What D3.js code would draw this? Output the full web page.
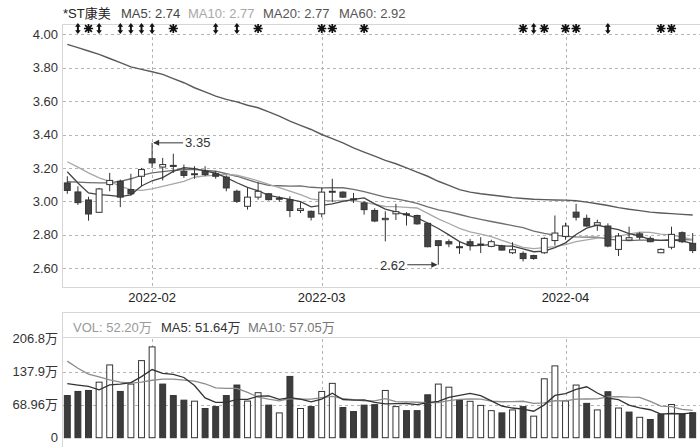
<!DOCTYPE html>
<html><head><meta charset="utf-8">
<script src="https://cdn.jsdelivr.net/npm/d3@7"></script>
<style>
body{margin:0;background:#fff}
svg{display:block}
text{font-family:"Liberation Sans",Arial,"Noto Sans CJK SC",sans-serif}
</style>
</head><body>
<svg id="c" width="700" height="447"></svg>
<script>
const dates = ["2022-01-19","2022-01-20","2022-01-21","2022-01-24","2022-01-25","2022-01-26","2022-01-27","2022-01-28",
"2022-02-07","2022-02-08","2022-02-09","2022-02-10","2022-02-11","2022-02-14","2022-02-15","2022-02-16","2022-02-17","2022-02-18",
"2022-02-21","2022-02-22","2022-02-23","2022-02-24","2022-02-25","2022-02-28",
"2022-03-01","2022-03-02","2022-03-03","2022-03-04","2022-03-07","2022-03-08","2022-03-09","2022-03-10","2022-03-11",
"2022-03-14","2022-03-15","2022-03-16","2022-03-17","2022-03-18","2022-03-21","2022-03-22","2022-03-23","2022-03-24","2022-03-25",
"2022-03-28","2022-03-29","2022-03-30","2022-03-31",
"2022-04-01","2022-04-06","2022-04-07","2022-04-08","2022-04-11","2022-04-12","2022-04-13","2022-04-14","2022-04-15",
"2022-04-18","2022-04-19","2022-04-20","2022-04-21"];

const open  = [3.11,3.056,3.008,2.934,3.10,3.12,3.07,3.15,3.255,3.205,3.215,3.18,3.16,3.18,3.165,3.145,3.06,2.97,3.025,3.045,
3.015,3.01,2.945,2.94,2.925,3.055,3.055,3.015,2.99,2.945,2.89,2.925,2.925,2.915,2.868,2.764,2.758,2.728,2.758,2.738,
2.73,2.733,2.692,2.688,2.675,2.692,2.765,2.79,2.935,2.898,2.858,2.852,2.712,2.768,2.805,2.778,2.692,2.725,2.812,2.748];
const high  = [3.15,3.09,3.027,3.08,3.17,3.13,3.165,3.20,3.35,3.26,3.285,3.22,3.21,3.21,3.18,3.155,3.07,3.08,3.115,3.05,
3.03,3.03,2.995,2.945,3.08,3.135,3.06,3.05,3.0,2.958,2.94,2.985,2.935,2.92,2.872,2.765,2.772,2.758,2.775,2.785,
2.77,2.74,2.755,2.70,2.68,2.785,2.915,2.872,2.985,2.92,2.89,2.868,2.81,2.848,2.815,2.79,2.718,2.848,2.82,2.81];
const low   = [3.045,2.978,2.884,2.93,3.06,2.965,3.035,3.09,3.20,3.125,3.17,3.14,3.135,3.15,3.135,3.06,2.99,2.95,3.01,3.005,
2.998,2.905,2.93,2.885,2.905,2.995,3.02,2.99,2.92,2.875,2.76,2.888,2.855,2.86,2.725,2.62,2.725,2.685,2.705,2.69,
2.725,2.705,2.684,2.64,2.65,2.685,2.735,2.77,2.885,2.848,2.823,2.725,2.672,2.765,2.77,2.755,2.69,2.712,2.75,2.69];
const close = [3.065,2.992,2.924,3.074,3.125,3.025,3.045,3.19,3.23,3.22,3.21,3.155,3.165,3.16,3.15,3.08,3.00,3.025,3.06,3.01,
3.018,2.945,2.955,2.905,3.055,3.06,3.025,3.01,2.95,2.882,2.898,2.938,2.92,2.865,2.728,2.735,2.745,2.722,2.735,2.744,
2.758,2.708,2.71,2.657,2.658,2.778,2.81,2.852,2.905,2.852,2.872,2.732,2.792,2.782,2.785,2.758,2.712,2.802,2.758,2.705];

const ma5  = [3.177,3.11,3.05,3.04,3.036,3.028,3.039,3.092,3.123,3.142,3.179,3.201,3.196,3.182,3.168,3.142,3.111,3.083,3.063,3.035,
3.023,3.012,2.998,2.967,2.976,2.984,3.0,3.011,3.02,2.985,2.953,2.936,2.918,2.901,2.87,2.837,2.799,2.759,2.733,2.736,
2.741,2.733,2.731,2.715,2.698,2.702,2.723,2.751,2.801,2.839,2.858,2.843,2.831,2.806,2.793,2.77,2.766,2.768,2.763,2.747];
const ma10 = [3.237,3.205,3.17,3.14,3.12,3.09,3.07,3.065,3.075,3.089,3.104,3.12,3.144,3.153,3.155,3.161,3.156,3.14,3.123,3.102,
3.082,3.061,3.04,3.015,3.005,3.003,3.006,3.004,2.993,2.981,2.969,2.968,2.964,2.96,2.928,2.895,2.867,2.838,2.817,2.803,
2.789,2.766,2.745,2.724,2.717,2.722,2.728,2.741,2.758,2.769,2.78,2.783,2.791,2.803,2.816,2.814,2.804,2.799,2.785,2.77];
const ma20 = [3.117,3.115,3.112,3.11,3.11,3.12,3.135,3.155,3.17,3.178,3.185,3.19,3.19,3.185,3.18,3.165,3.15,3.13,3.11,3.095,
3.093,3.091,3.092,3.084,3.08,3.082,3.081,3.072,3.058,3.041,3.025,3.015,3.002,2.988,2.966,2.949,2.936,2.921,2.905,2.892,
2.879,2.867,2.855,2.842,2.822,2.808,2.798,2.79,2.787,2.786,2.785,2.774,2.768,2.764,2.767,2.768,2.766,2.77,2.771,2.769];
const ma60 = [3.94,3.92,3.90,3.88,3.855,3.83,3.805,3.79,3.776,3.76,3.735,3.71,3.68,3.655,3.63,3.61,3.595,3.575,3.56,3.535,
3.51,3.48,3.455,3.43,3.40,3.375,3.35,3.32,3.295,3.27,3.245,3.225,3.20,3.175,3.15,3.12,3.095,3.07,3.055,3.045,
3.038,3.03,3.022,3.017,3.012,3.01,3.008,3.007,3.003,2.995,2.985,2.975,2.962,2.952,2.944,2.935,2.93,2.926,2.922,2.918];

const volume = [88,96.6,98.7,116,152,96.6,112,161,189.7,112,88,78.4,76.3,61,65,88,110,76.5,94,68,
51.8,128,61,65,96.6,113.5,63,54.6,68,69,98.7,65,56.5,56.5,89.6,112,105.5,79,76,67.5,
56.5,51.8,58,65,45,123,150,76.8,110,71.7,58,96,62,53.5,42.6,38,49.2,69.3,49.7,52.2];
const volUp = [0,0,0,1,1,0,1,1,1,0,0,0,1,0,0,0,0,1,1,0,1,0,1,0,1,1,0,0,0,0,1,1,0,0,0,1,1,0,1,1,
1,0,1,0,1,1,1,1,1,0,1,0,1,0,1,0,0,1,0,0];
const volMa5 = [113,110,107,100,110.3,112,115.1,127.5,142.3,134.3,132.5,125.8,108.9,83.1,73.7,73.7,80.1,80.1,86.7,87.3,
80.1,83.7,80.6,74.8,80.5,92.8,79.8,78.5,79.1,73.6,70.7,71.1,71.4,69.1,73.3,75.9,84.0,88.5,92.4,88.0,
76.9,66.2,62.0,59.8,55.3,68.6,88.2,92.0,101.0,106.3,93.3,82.5,79.5,68.2,62.4,58.4,49.1,50.5,49.8,51.7];
const volMa10 = [160,145,133,127,121,116,114,116,120,122.3,122.3,120.4,118.2,112.7,104.0,103.1,102.9,94.5,84.9,80.5,
76.9,81.9,80.3,80.7,83.9,86.4,81.7,79.6,77.0,77.1,81.7,75.4,75.0,74.1,73.4,73.3,77.5,80.0,80.8,80.6,
76.4,75.1,75.2,76.1,71.6,72.7,77.2,77.0,80.4,80.8,80.9,85.4,85.8,84.6,84.4,75.9,65.8,65.0,59.0,57.05];

const priceTicks = [2.6,2.8,3.0,3.2,3.4,3.6,3.8,4.0];
const volTicks = [0,68.96,137.9,206.8];
const volTickLabels = ["0","68.96万","137.9万","206.8万"];
const monthDates = ["2022-02-07","2022-03-01","2022-04-01"];
const monthLabels = ["2022-02","2022-03","2022-04"];
const markerDates = ["2022-01-20","2022-01-21","2022-01-24","2022-01-26","2022-01-27","2022-01-28","2022-02-07","2022-02-09",
"2022-02-15","2022-02-17","2022-02-21","2022-03-01","2022-03-02","2022-03-07","2022-03-28","2022-03-29","2022-03-30",
"2022-04-01","2022-04-06","2022-04-11","2022-04-18","2022-04-19"];
const markerTypes = ["arrow","star","arrow","arrow","arrow","arrow","arrow","star","arrow","arrow","star","star","star","star",
"star","arrow","star","star","star","arrow","star","star"];
const stockName = "*ST康美";
const legendLabels = ["MA5: 2.74","MA10: 2.77","MA20: 2.77","MA60: 2.92"];
const volLegendLabels = ["VOL: 52.20万","MA5: 51.64万","MA10: 57.05万"];

const svg = d3.select("#c");
const X0 = 62, X1 = 698, XR = 700;
const x = d3.scaleBand().domain(dates).range([X0, X1]).paddingInner(0.35).paddingOuter(0.175);
const bw = x.bandwidth();
const cx = d => x(d) + bw / 2;
const y = d3.scaleLinear().domain([2.6, 4.0]).range([268.1, 34.3]);
const vy = d3.scaleLinear().domain([0, 206.8]).range([437.7, 338.7]);

const frame = "#d6d6d6";
// frames
const fr = svg.append("g").attr("stroke", frame).attr("stroke-width", 1);
fr.append("line").attr("x1", X0).attr("x2", XR).attr("y1", 24.5).attr("y2", 24.5);
fr.append("line").attr("x1", X0 + 0.5).attr("x2", X0 + 0.5).attr("y1", 24).attr("y2", 287);
fr.append("line").attr("x1", X0).attr("x2", XR).attr("y1", 287.5).attr("y2", 287.5);
fr.append("line").attr("x1", X0).attr("x2", XR).attr("y1", 312.5).attr("y2", 312.5);
fr.append("line").attr("x1", X0).attr("x2", XR).attr("y1", 337.5).attr("y2", 337.5);
fr.append("line").attr("x1", X0 + 0.5).attr("x2", X0 + 0.5).attr("y1", 312).attr("y2", 447);

// grid
const grid = svg.append("g").attr("stroke", "#b4b4b4").attr("stroke-dasharray", "3,3").attr("stroke-width", 1);
priceTicks.forEach(t => grid.append("line").attr("x1", X0 + 1).attr("x2", XR).attr("y1", Math.round(y(t)) + 0.5).attr("y2", Math.round(y(t)) + 0.5));
[volTicks[1], volTicks[2]].forEach(t => grid.append("line").attr("x1", X0 + 1).attr("x2", XR).attr("y1", Math.round(vy(t)) + 0.5).attr("y2", Math.round(vy(t)) + 0.5));
monthDates.forEach(d => {
  const xx = Math.round(cx(d)) + 0.5;
  grid.append("line").attr("x1", xx).attr("x2", xx).attr("y1", 25).attr("y2", 287);
  grid.append("line").attr("x1", xx).attr("x2", xx).attr("y1", 339).attr("y2", 438);
});

// axes
const ay = svg.append("g").attr("transform", `translate(${X0 - 4},0)`)
  .call(d3.axisLeft(y).tickValues(priceTicks).tickFormat(d3.format(".2f")).tickSize(0).tickPadding(0));
ay.select(".domain").remove();
ay.selectAll("text").attr("font-size", 13).attr("fill", "#333").attr("font-family", '"Liberation Sans",Arial,sans-serif');

const avy = svg.append("g").attr("transform", `translate(${X0 - 4},0)`)
  .call(d3.axisLeft(vy).tickValues(volTicks).tickFormat((d, i) => volTickLabels[i]).tickSize(0).tickPadding(0));
avy.select(".domain").remove();
avy.selectAll("text").attr("font-size", 13).attr("fill", "#333").attr("font-family", '"Liberation Sans",Arial,"Noto Sans CJK SC",sans-serif');

const ax = svg.append("g").attr("transform", `translate(0,287)`)
  .call(d3.axisBottom(x).tickValues(monthDates).tickFormat((d, i) => monthLabels[i]).tickSize(0).tickPadding(6));
ax.select(".domain").remove();
ax.selectAll("text").attr("font-size", 13).attr("fill", "#222").attr("font-family", '"Liberation Sans",Arial,sans-serif');

// MA lines (price)
const lineOf = arr => d3.line().x((d, i) => cx(dates[i])).y(d => y(d))(arr);
svg.append("path").attr("d", lineOf(ma60)).attr("fill", "none").attr("stroke", "#5a5a5a").attr("stroke-width", 1.4);
svg.append("path").attr("d", lineOf(ma20)).attr("fill", "none").attr("stroke", "#6e6e6e").attr("stroke-width", 1.3);
svg.append("path").attr("d", lineOf(ma10)).attr("fill", "none").attr("stroke", "#a8a8a8").attr("stroke-width", 1.3);
svg.append("path").attr("d", lineOf(ma5)).attr("fill", "none").attr("stroke", "#444", ).attr("stroke-width", 1.3);

// candles
const cg = svg.append("g");
dates.forEach((d, i) => {
  const o = open[i], c = close[i], up = c >= o;
  const xc = cx(d);
  const top = y(Math.max(o, c)), bot = y(Math.min(o, c));
  cg.append("line").attr("x1", xc).attr("x2", xc).attr("y1", y(high[i])).attr("y2", y(low[i]))
    .attr("stroke", "#333").attr("stroke-width", 1);
  cg.append("rect").attr("x", x(d) + 0.5).attr("width", bw - 1).attr("y", top).attr("height", Math.max(1, bot - top))
    .attr("fill", up ? "#fff" : "#444").attr("stroke", "#333").attr("stroke-width", 1);
});

// markers
const mg = svg.append("g").attr("fill", "#111").attr("stroke", "#111");
markerDates.forEach((d, i) => {
  const xc = cx(d), yc = 28.5;
  if (markerTypes[i] === "arrow") {
    mg.append("line").attr("x1", xc).attr("x2", xc).attr("y1", yc - 3).attr("y2", yc + 3).attr("stroke-width", 2);
    mg.append("path").attr("stroke", "none").attr("d", `M${xc},${yc - 5.5}L${xc - 2.8},${yc - 1.8}L${xc + 2.8},${yc - 1.8}Z`);
    mg.append("path").attr("stroke", "none").attr("d", `M${xc},${yc + 5.5}L${xc - 2.8},${yc + 1.8}L${xc + 2.8},${yc + 1.8}Z`);
  } else {
    const r = 4.6, r2 = 3.4;
    mg.append("path").attr("stroke-width", 1.7).attr("fill", "none")
      .attr("d", `M${xc},${yc - r}V${yc + r}M${xc - r},${yc}H${xc + r}M${xc - r2},${yc - r2}L${xc + r2},${yc + r2}M${xc - r2},${yc + r2}L${xc + r2},${yc - r2}`);
    mg.append("circle").attr("cx", xc).attr("cy", yc).attr("r", 1.8).attr("stroke", "none");
  }
});

// annotations high / low
const hiIdx = d3.maxIndex(high), loIdx = d3.minIndex(low);
const ann = svg.append("g");
{
  const xc = cx(dates[hiIdx]), yy = y(high[hiIdx]);
  ann.append("line").attr("x1", xc + 2).attr("x2", xc + 31).attr("y1", yy).attr("y2", yy).attr("stroke", "#333");
  ann.append("path").attr("d", `M${xc + 1},${yy}L${xc + 7},${yy - 3}L${xc + 7},${yy + 3}Z`).attr("fill", "#333");
  ann.append("text").attr("x", xc + 33).attr("y", yy + 1).attr("dominant-baseline", "middle")
    .attr("font-size", 13).attr("fill", "#333").text(d3.format(".2f")(high[hiIdx]));
}
{
  const xc = cx(dates[loIdx]), yy = y(low[loIdx]);
  ann.append("line").attr("x1", xc - 31).attr("x2", xc - 2).attr("y1", yy).attr("y2", yy).attr("stroke", "#333");
  ann.append("path").attr("d", `M${xc - 1},${yy}L${xc - 7},${yy - 3}L${xc - 7},${yy + 3}Z`).attr("fill", "#333");
  ann.append("text").attr("x", xc - 33).attr("y", yy + 2).attr("dominant-baseline", "middle").attr("text-anchor", "end")
    .attr("font-size", 13).attr("fill", "#333").text(d3.format(".2f")(low[loIdx]));
}

// title legend
const lg = svg.append("g").attr("font-size", 13);
lg.append("text").attr("x", 63).attr("y", 18).attr("fill", "#222").text(stockName);
const legendX = [121, 188, 263, 339];
const legendColors = ["#444", "#a8a8a8", "#555", "#555"];
legendLabels.forEach((t, i) => lg.append("text").attr("x", legendX[i]).attr("y", 18).attr("fill", legendColors[i]).text(t));

// volume bars
const vg = svg.append("g");
dates.forEach((d, i) => {
  const t = vy(volume[i]);
  vg.append("rect").attr("x", x(d) + 0.5).attr("width", bw - 1).attr("y", t).attr("height", vy(0) - t)
    .attr("fill", volUp[i] ? "#fff" : "#3c3c3c").attr("stroke", "#333").attr("stroke-width", 1);
});
const vline = arr => d3.line().x((d, i) => cx(dates[i])).y(d => vy(d))(arr);
svg.append("path").attr("d", vline(volMa10)).attr("fill", "none").attr("stroke", "#8c8c8c").attr("stroke-width", 1.3);
svg.append("path").attr("d", vline(volMa5)).attr("fill", "none").attr("stroke", "#333").attr("stroke-width", 1.3);

// volume legend
const vl = svg.append("g").attr("font-size", 13);
const vlX = [73, 161, 248];
const vlColors = ["#9a9a9a", "#333", "#777"];
volLegendLabels.forEach((t, i) => vl.append("text").attr("x", vlX[i]).attr("y", 331.5).attr("fill", vlColors[i]).text(t));
</script>
</body></html>
